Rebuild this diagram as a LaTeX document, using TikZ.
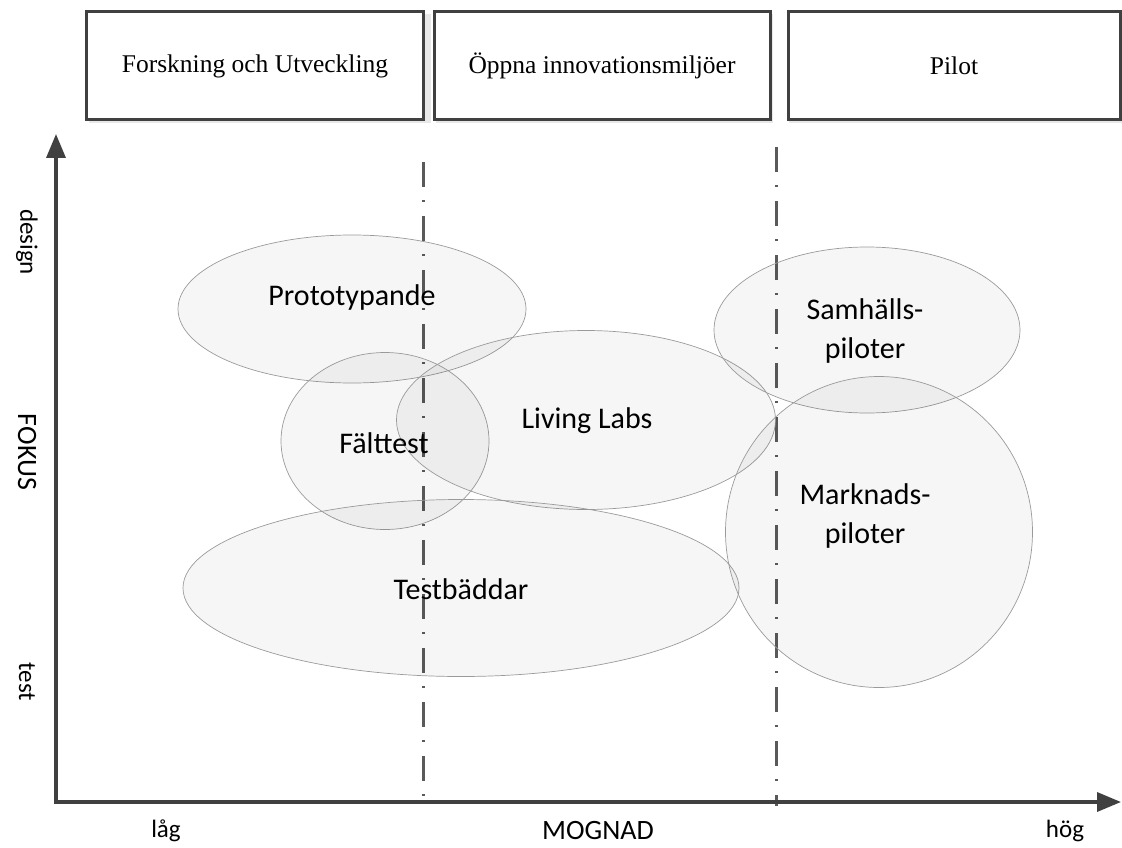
\documentclass[tikz,border=0pt]{standalone}
\usepackage{fontspec}
\setmainfont{Liberation Serif}
\newfontfamily\calib{Carlito}
\usetikzlibrary{arrows.meta,shapes.geometric}
\definecolor{axisgray}{HTML}{404040}
\definecolor{divgray}{HTML}{5A5A5A}
\definecolor{ellgray}{HTML}{9A9A9A}
\tikzset{
  phasebox/.style={draw=axisgray, line width=3pt, fill=white, minimum height=108pt, inner sep=0pt,
    font=\fontsize{25.5}{30}\selectfont},
  shadowbox/.style={fill=black!9, draw=none},
  axisline/.style={draw=axisgray, line width=3.5pt, -{Triangle[length=24pt,width=19pt]}},
  divider/.style={draw=divgray, line width=3pt, dash pattern=on 25pt off 13pt on 2pt off 14pt},
  zone/.style={ellipse, draw=ellgray, line width=0.7pt, fill=black, fill opacity=0.035, inner sep=0pt},
  zonetext/.style={font=\calib\fontsize{30}{39}\selectfont, align=center, text=black},
  axlabel/.style={font=\calib\fontsize{25}{30}\selectfont},
  axtitle/.style={font=\calib\fontsize{28}{34}\selectfont},
}
\begin{document}
\begin{tikzpicture}[x=1pt,y=-1pt]
\useasboundingbox (0,0) rectangle (1122,848);
% phase boxes
\fill[shadowbox] (89,14) rectangle (431,123);
\fill[shadowbox] (436,14) rectangle (773,123);
\fill[shadowbox] (789,14) rectangle (1122,123);
\node[phasebox, minimum width=337pt] (fou) at (255,66) {Forskning och Utveckling};
\node[phasebox, minimum width=336pt] (oim) at (602,66) {Öppna innovationsmiljöer};
\node[phasebox, minimum width=332pt] (pil) at (954,66) {Pilot};
% dividers
\coordinate (d1t) at (423,162);
\coordinate (d1b) at (423,806);
\coordinate (d2t) at (776,147);
\coordinate (d2b) at (776,806);
\draw[divider] (d1t) -- (d1b);
\draw[divider] (d2t) -- (d2b);
% axes
\coordinate (org) at (56,802);
\coordinate (ytop) at (56,134);
\coordinate (xend) at (1121,802);
\draw[axisline] (org) -- (ytop);
\draw[axisline] ([xshift=-1.75pt]org) -- (xend);
% ellipses
\node[zone, minimum width=348pt, minimum height=148pt] (proto) at (352,309) {};
\node[zone, minimum width=208pt, minimum height=177pt] (falt) at (385,441) {};
\node[zone, minimum width=379pt, minimum height=179pt] (ll) at (586,420) {};
\node[zone, minimum width=556pt, minimum height=177pt] (tb) at (461,588) {};
\node[zone, minimum width=306pt, minimum height=166pt] (samh) at (867,330) {};
\node[zone, minimum width=307pt, minimum height=311pt] (mark) at (879,532) {};
% ellipse labels
\node[zonetext] (protot) at (352,298) {Prototypande};
\node[zonetext] (faltt) at (384,443) {Fälttest};
\node[zonetext] (llt) at (587,421) {Living Labs};
\node[zonetext] (tbt) at (461,589) {Testbäddar};
\node[zonetext] (samht) at (865,331) {Samhälls-\\piloter};
\node[zonetext] (markt) at (865,516) {Marknads-\\piloter};
% axis labels
\node[axlabel, rotate=-90] (design) at (27,242) {design};
\node[axtitle, rotate=-90] (fokus) at (27,452) {FOKUS};
\node[axlabel, rotate=-90] (test) at (27,682) {test};
\node[axlabel] (lag) at (166,831) {låg};
\node[axtitle] (mognad) at (598,831) {MOGNAD};
\node[axlabel] (hog) at (1065,831) {hög};
\end{tikzpicture}
\end{document}
